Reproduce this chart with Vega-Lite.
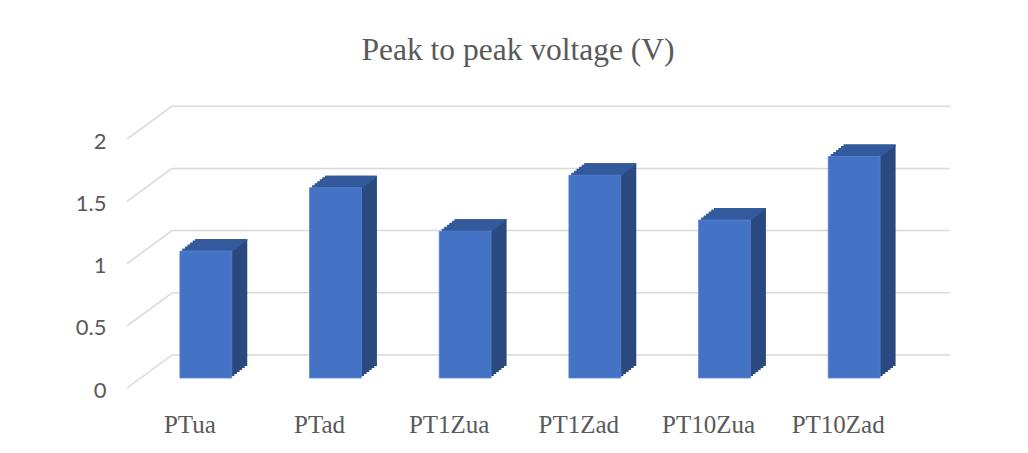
{
  "$schema": "https://vega.github.io/schema/vega-lite/v6.json",
  "width": 778,
  "height": 248.8,
  "autosize": {"type": "none"},
  "padding": {"left": 141, "top": 129.2, "right": 109, "bottom": 75},
  "background": "white",
  "title": {
    "text": "Peak to peak voltage (V)",
    "font": "Liberation Serif",
    "fontSize": 31.5,
    "fontWeight": "normal",
    "color": "#595959",
    "anchor": "middle",
    "frame": "group",
    "dx": -12,
    "offset": 39
  },
  "config": {"view": {"stroke": null}},
  "datasets": {
    "bars": [
      {"sample": "PTua", "vpp": 1.02},
      {"sample": "PTad", "vpp": 1.53},
      {"sample": "PT1Zua", "vpp": 1.18},
      {"sample": "PT1Zad", "vpp": 1.63},
      {"sample": "PT10Zua", "vpp": 1.27},
      {"sample": "PT10Zad", "vpp": 1.78}
    ],
    "grid": [{"tick": 0}, {"tick": 0.5}, {"tick": 1}, {"tick": 1.5}, {"tick": 2}]
  },
  "layer": [
    {
      "data": {"name": "grid"},
      "mark": {"type": "rule", "color": "#D9D9D9", "strokeWidth": 1.5, "xOffset": 31, "x2Offset": 31, "yOffset": -23, "y2Offset": -23},
      "encoding": {
        "y": {"field": "tick", "type": "quantitative", "scale": {"domain": [0, 2], "nice": false},
          "axis": {"title": null, "values": [0, 0.5, 1, 1.5, 2], "format": "~g", "domain": false, "ticks": false, "tickSize": 0, "grid": false, "labelPadding": 35, "labelOffset": 12, "labelFont": "Lato", "labelFontSize": 22, "labelColor": "#595959"}},
        "x": {"value": 0},
        "x2": {"value": "width"}
      }
    },
    {
      "data": {"name": "grid"},
      "mark": {"type": "rule", "color": "#D9D9D9", "strokeWidth": 1.5, "xOffset": -14, "x2Offset": 31, "yOffset": 10, "y2Offset": -23},
      "encoding": {
        "y": {"field": "tick", "type": "quantitative", "scale": {"domain": [0, 2], "nice": false},
          "axis": {"title": null, "values": [0, 0.5, 1, 1.5, 2], "format": "~g", "domain": false, "ticks": false, "tickSize": 0, "grid": false, "labelPadding": 35, "labelOffset": 12, "labelFont": "Lato", "labelFontSize": 22, "labelColor": "#595959"}},
        "y2": {"field": "tick"},
        "x": {"value": 0},
        "x2": {"value": 0}
      }
    },
    {
      "data": {"name": "bars"},
      "encoding": {
        "x": {
          "field": "sample", "type": "nominal", "sort": null,
          "scale": {"paddingInner": 0.6, "paddingOuter": 0.3},
          "axis": {"title": null, "domain": false, "ticks": false, "tickSize": 0, "labelAngle": 0, "labelPadding": 54, "labelBaseline": "alphabetic", "labelOffset": -16, "labelFont": "Liberation Serif", "labelFontSize": 25, "labelColor": "#595959"}
        },
        "y": {
          "field": "vpp", "type": "quantitative",
          "scale": {"domain": [0, 2], "nice": false},
          "axis": {"title": null, "values": [0, 0.5, 1, 1.5, 2], "format": "~g", "domain": false, "ticks": false, "tickSize": 0, "grid": false, "labelPadding": 35, "labelOffset": 12, "labelFont": "Lato", "labelFontSize": 22, "labelColor": "#595959"}
        }
      },
      "layer": [
        {"mark": {"type": "bar", "color": "#2A4A7F", "xOffset": 2.6, "yOffset": -2, "y2Offset": -2}},
        {"mark": {"type": "bar", "color": "#2A4A7F", "xOffset": 5.2, "yOffset": -4, "y2Offset": -4}},
        {"mark": {"type": "bar", "color": "#2A4A7F", "xOffset": 7.8, "yOffset": -6, "y2Offset": -6}},
        {"mark": {"type": "bar", "color": "#2A4A7F", "xOffset": 10.3, "yOffset": -8, "y2Offset": -8}},
        {"mark": {"type": "bar", "color": "#2A4A7F", "xOffset": 12.9, "yOffset": -10, "y2Offset": -10}},
        {"mark": {"type": "bar", "color": "#2A4A7F", "xOffset": 15.5, "yOffset": -12, "y2Offset": -12}},
        {"mark": {"type": "bar", "color": "#335A9C", "xOffset": 2.6, "yOffset": -2.5, "y2Offset": 0}, "encoding": {"y2": {"field": "vpp"}}},
        {"mark": {"type": "bar", "color": "#335A9C", "xOffset": 5.2, "yOffset": -4.5, "y2Offset": -2}, "encoding": {"y2": {"field": "vpp"}}},
        {"mark": {"type": "bar", "color": "#335A9C", "xOffset": 7.8, "yOffset": -6.5, "y2Offset": -4}, "encoding": {"y2": {"field": "vpp"}}},
        {"mark": {"type": "bar", "color": "#335A9C", "xOffset": 10.3, "yOffset": -8.5, "y2Offset": -6}, "encoding": {"y2": {"field": "vpp"}}},
        {"mark": {"type": "bar", "color": "#335A9C", "xOffset": 12.9, "yOffset": -10.5, "y2Offset": -8}, "encoding": {"y2": {"field": "vpp"}}},
        {"mark": {"type": "bar", "color": "#335A9C", "xOffset": 15.5, "yOffset": -12, "y2Offset": -10}, "encoding": {"y2": {"field": "vpp"}}},
        {"mark": {"type": "bar", "color": "#4472C4", "stroke": "#5585D3", "strokeWidth": 0.8}}
      ]
    }
  ]
}
